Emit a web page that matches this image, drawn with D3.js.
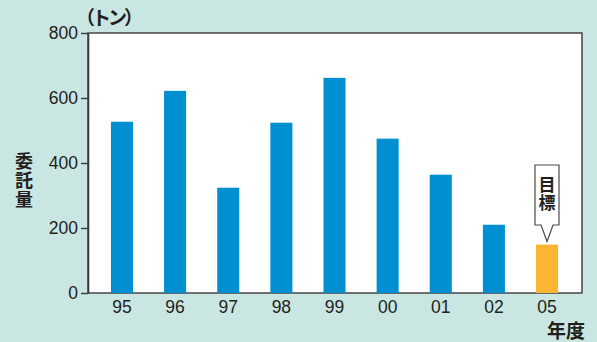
<!DOCTYPE html>
<html>
<head>
<meta charset="utf-8">
<script src="https://cdn.jsdelivr.net/npm/d3@7"></script>
<style>
  html, body { margin: 0; padding: 0; background: #c9e6e3; }
  svg { display: block; }
  .cjk { font-family: "Noto Sans CJK JP", sans-serif; font-weight: 700; fill: #231f20; }
  .vert { writing-mode: vertical-rl; text-orientation: upright; }
  .tick text { font-family: "Liberation Sans", Arial, sans-serif; font-size: 17.5px; fill: #231f20; }
</style>
</head>
<body>
<script>
// 委託量 by fiscal year (tons); the last entry is the target
const years = ["95", "96", "97", "98", "99", "00", "01", "02", "05"];
const amounts = [527, 622, 324, 524, 662, 475, 364, 210, 149];
const isTarget = [false, false, false, false, false, false, false, false, true];
const yTicks = [0, 200, 400, 600, 800];

const W = 597, H = 342;
const frame = { left: 88, right: 582, top: 33, bottom: 293 };

const svg = d3.select("body").append("svg")
  .attr("width", W).attr("height", H);

svg.append("rect").attr("width", W).attr("height", H).attr("fill", "#c9e6e3");

const x = d3.scaleBand()
  .domain(years)
  .range([95.4, 573.6])
  .paddingInner(0.585)
  .paddingOuter(0.2925);

const y = d3.scaleLinear()
  .domain([0, 800])
  .range([frame.bottom, frame.top]);

// plot panel
svg.append("rect")
  .attr("x", frame.left).attr("y", frame.top)
  .attr("width", frame.right - frame.left)
  .attr("height", frame.bottom - frame.top)
  .attr("fill", "#ffffff")
  .attr("stroke", "#3a3a3a").attr("stroke-width", 1.4);

// bars
svg.append("g").selectAll("rect")
  .data(years)
  .join("rect")
  .attr("x", d => x(d))
  .attr("width", x.bandwidth())
  .attr("y", (d, i) => y(amounts[i]))
  .attr("height", (d, i) => y(0) - y(amounts[i]))
  .attr("fill", (d, i) => isTarget[i] ? "#fcb532" : "#008fd0");

// y axis
const yAxis = svg.append("g")
  .attr("transform", `translate(${frame.left},0)`)
  .call(d3.axisLeft(y).tickValues(yTicks).tickSize(7).tickPadding(3).tickSizeOuter(0));
yAxis.select(".domain").attr("stroke", "#3a3a3a").attr("stroke-width", 1.6);
yAxis.selectAll(".tick line").attr("stroke", "#3a3a3a").attr("stroke-width", 1.4);

// x axis labels
const xAxis = svg.append("g")
  .attr("transform", `translate(0,${frame.bottom})`)
  .call(d3.axisBottom(x).tickSize(0).tickPadding(8));
xAxis.select(".domain").remove();

// unit label
svg.append("text").attr("class", "cjk")
  .attr("x", 76).attr("y", 25)
  .attr("font-size", 19)
  .attr("letter-spacing", -3)
  .text("（トン）");

// vertical axis title
svg.append("text").attr("class", "cjk vert")
  .attr("x", 24).attr("y", 152)
  .attr("font-size", 18)
  .attr("letter-spacing", 1)
  .text("委託量");

// horizontal axis title
svg.append("text").attr("class", "cjk")
  .attr("x", 585).attr("y", 338)
  .attr("text-anchor", "end")
  .attr("font-size", 19)
  .text("年度");

// target callout above the 05 bar
const tx = x("05") + x.bandwidth() / 2;
const boxL = 535, boxR = 559, boxT = 165, boxB = 225;
const tipY = y(amounts[amounts.length - 1]) - 3;
svg.append("path")
  .attr("d", `M${boxL},${boxT}H${boxR}V${boxB}H${tx + 6}L${tx},${tipY}L${tx - 6},${boxB}H${boxL}Z`)
  .attr("fill", "#ffffff")
  .attr("stroke", "#4a4a4a").attr("stroke-width", 1.2);
svg.append("text").attr("class", "cjk vert")
  .attr("x", tx).attr("y", 176)
  .attr("font-size", 17)
  .attr("letter-spacing", 1)
  .text("目標");
</script>
</body>
</html>
